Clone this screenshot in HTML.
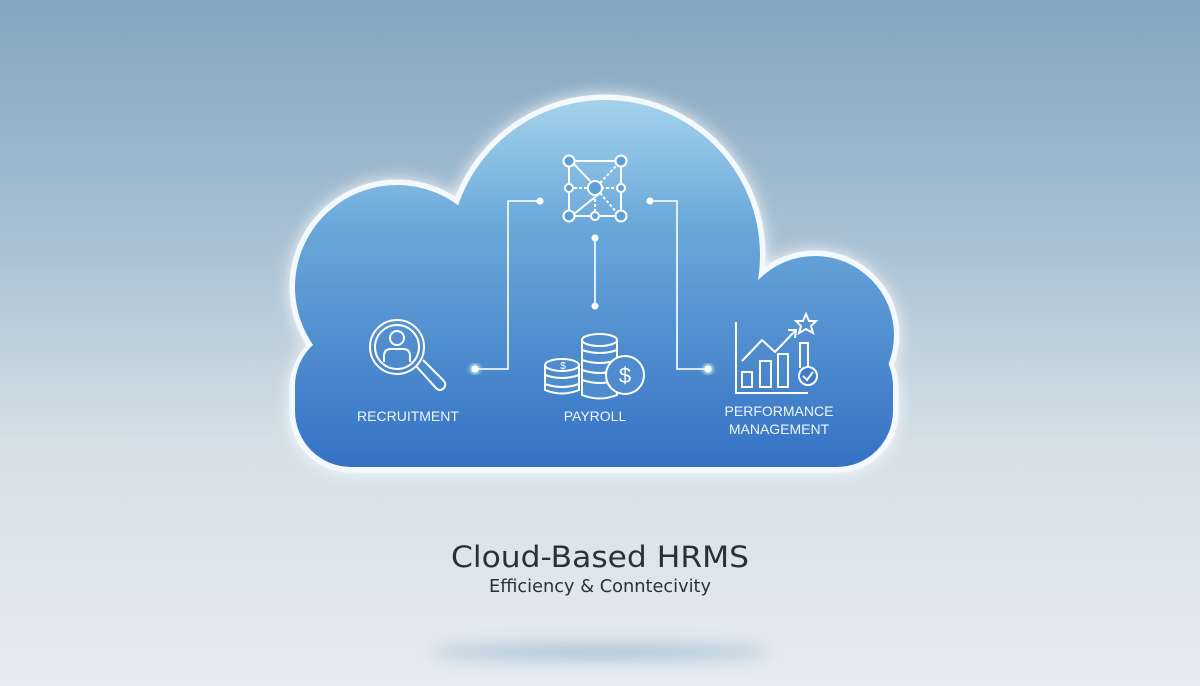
<!DOCTYPE html>
<html><head><meta charset="utf-8"><style>
html,body{margin:0;padding:0;width:1200px;height:686px;overflow:hidden;}
body{background:linear-gradient(180deg,#82a6c0 0%,#a9c0d2 35%,#d5e0e8 65%,#e6ecf1 100%);}
</style></head><body>
<svg width="1200" height="686" viewBox="0 0 1200 686" xmlns="http://www.w3.org/2000/svg" style="position:absolute;left:0;top:0">
<defs>
<linearGradient id="cg" x1="0" y1="0" x2="0" y2="1" gradientUnits="userSpaceOnUse" x1v="0">
</linearGradient>
<linearGradient id="fill" x1="0" y1="95" x2="0" y2="470" gradientUnits="userSpaceOnUse">
<stop offset="0" stop-color="#a6d4ec"/><stop offset="0.35" stop-color="#6aa8da"/><stop offset="1" stop-color="#3471c4"/>
</linearGradient>
<filter id="glow" x="-20%" y="-20%" width="140%" height="140%"><feGaussianBlur stdDeviation="8"/></filter>
<filter id="sh" x="-50%" y="-300%" width="200%" height="700%"><feGaussianBlur stdDeviation="8"/></filter>
<filter id="dg"><feGaussianBlur stdDeviation="2"/></filter>
</defs>
<ellipse cx="600" cy="652" rx="170" ry="8" fill="#9fbad0" filter="url(#sh)" opacity="0.8"/>
<g filter="url(#glow)" fill="#ffffff" opacity="0.9">
<rect x="290" y="330" width="608" height="142" rx="60"/>
<circle cx="397" cy="287" r="107"/><circle cx="605" cy="255" r="160"/><circle cx="815" cy="335" r="84"/>
</g>
<g fill="#f4f9fd" stroke="#f4f9fd" stroke-width="5">
<rect x="292" y="330" width="604" height="140" rx="58"/>
<circle cx="397" cy="287" r="105"/><circle cx="605" cy="255" r="158"/><circle cx="815" cy="335" r="82"/>
</g>
<g fill="url(#fill)">
<rect x="295" y="330" width="598" height="137" rx="56"/>
<circle cx="397" cy="287" r="102"/><circle cx="605" cy="255" r="155"/><circle cx="815" cy="335" r="79"/>
</g>
<g stroke="#eef6fb" stroke-width="1.8" fill="none">
<path d="M540 201 H508 V369 H475"/><path d="M650 201 H677 V369 H708"/><path d="M595 238 V306"/>
</g>
<g fill="#c8ffe8" filter="url(#dg)"><circle cx="475" cy="369" r="5"/><circle cx="708" cy="369" r="5"/></g>
<g fill="#fff"><circle cx="540" cy="201" r="3.5"/><circle cx="650" cy="201" r="3.5"/><circle cx="595" cy="238" r="3.5"/><circle cx="595" cy="306" r="3.5"/><circle cx="475" cy="369" r="3.5"/><circle cx="708" cy="369" r="3.5"/></g>
<!-- network icon -->
<g stroke="#fff" stroke-width="2" fill="none">
<path d="M569 161 H621 V216 H569 Z"/>
<path d="M573 163 L590 181 M600 193 L574 214"/>
<path d="M600 183 L618 164 M600 193 L618 214 M601 188 H616 M595 194 V211 M574 188 H589" stroke-dasharray="3 2"/>
<g fill="#5e9fd5"><circle cx="569" cy="161" r="5.5"/><circle cx="621" cy="161" r="5.5"/><circle cx="569" cy="216" r="5.5"/><circle cx="621" cy="216" r="5.5"/><circle cx="569" cy="188" r="4"/><circle cx="621" cy="188" r="4"/><circle cx="595" cy="216" r="4"/><circle cx="595" cy="188" r="7"/></g>
</g>
<!-- recruitment -->
<g stroke="#fff" stroke-width="2" fill="none">
<circle cx="397" cy="347" r="27"/><circle cx="397" cy="347" r="22"/>
<circle cx="397" cy="338" r="7"/><path d="M384 362 V356 Q384 349 391 349 H403 Q410 349 410 356 V362"/>
<path d="M416 366 L436 388 Q440 392 444 388 Q447 384 443 380 L423 360"/>
</g>
<!-- payroll -->
<g stroke="#fff" stroke-width="2" fill="#4e8ccf">
<path d="M582 340 V395 Q600 402 617 395 V340"/>
<ellipse cx="599.5" cy="340" rx="17.5" ry="6"/>
<path d="M582 350 Q600 356 617 350 M582 360 Q600 366 617 360 M582 370 Q600 376 617 370 M582 380 Q600 386 617 380" fill="none"/>
<path d="M545 365 V390 Q562 397 579 390 V365"/>
<ellipse cx="562" cy="365" rx="17" ry="6"/>
<path d="M545 375 Q562 381 579 375 M545 384 Q562 390 579 384" fill="none"/>
<circle cx="625" cy="375" r="19"/>
</g>
<text x="625" y="383" font-family="Liberation Sans,sans-serif" font-size="22" fill="#fff" text-anchor="middle">$</text>
<text x="563" y="369" font-family="Liberation Sans,sans-serif" font-size="10" fill="#fff" text-anchor="middle">$</text>
<!-- chart -->
<g stroke="#fff" stroke-width="2" fill="none">
<path d="M736 322 V393 H808"/>
<rect x="742" y="372" width="10" height="15"/><rect x="760" y="361" width="11" height="26"/><rect x="778" y="354" width="10" height="33"/><path d="M800 368 V343 H808 V372"/>
<path d="M742 361 L762 340 L775 352 L795 331"/><path d="M788 330 L796 330 L795 338"/>
<path d="M806 314 L809 321 L816 321 L811 326 L813 333 L806 329 L799 333 L801 326 L796 321 L803 321 Z"/>
<circle cx="808" cy="376" r="9" fill="#3f7ccb"/><path d="M803 376 L807 380 L813 372"/>
</g>
<g font-family="Liberation Sans,sans-serif" font-size="14" fill="#eef5fb" text-anchor="middle">
<text x="408" y="421">RECRUITMENT</text>
<text x="595" y="421">PAYROLL</text>
<text x="779" y="416">PERFORMANCE</text>
<text x="779" y="434">MANAGEMENT</text>
</g>
<text x="600" y="567" font-family="DejaVu Sans,Liberation Sans,sans-serif" font-size="29" fill="#27323d" text-anchor="middle" textLength="298" lengthAdjust="spacingAndGlyphs">Cloud-Based HRMS</text>
<text x="600" y="592" font-family="DejaVu Sans,Liberation Sans,sans-serif" font-size="18" fill="#27323d" text-anchor="middle" textLength="222" lengthAdjust="spacingAndGlyphs">Efficiency &amp; Conntecivity</text>
</svg>
</body></html>
